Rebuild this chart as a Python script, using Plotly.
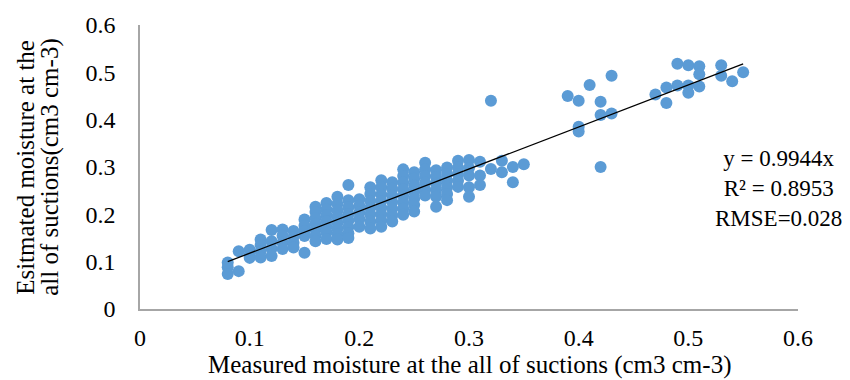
import plotly.graph_objects as go

# Measured (x) and estimated (y) moisture values
measured = [
    0.08, 0.08, 0.08,
    0.09, 0.09,
    0.10, 0.10, 0.10,
    0.11, 0.11, 0.11, 0.11,
    0.12, 0.12, 0.12, 0.12,
    0.13, 0.13, 0.13, 0.13,
    0.14, 0.14, 0.14, 0.14,
    0.15, 0.15, 0.15, 0.15, 0.15,
    0.16, 0.16, 0.16, 0.16, 0.16, 0.16, 0.16,
    0.17, 0.17, 0.17, 0.17, 0.17, 0.17, 0.17,
    0.18, 0.18, 0.18, 0.18, 0.18, 0.18, 0.18, 0.18,
    0.19, 0.19, 0.19, 0.19, 0.19, 0.19, 0.19, 0.19,
    0.20, 0.20, 0.20, 0.20, 0.20,
    0.21, 0.21, 0.21, 0.21, 0.21, 0.21, 0.21,
    0.22, 0.22, 0.22, 0.22, 0.22, 0.22, 0.22, 0.22,
    0.23, 0.23, 0.23, 0.23, 0.23, 0.23, 0.23,
    0.24, 0.24, 0.24, 0.24, 0.24, 0.24, 0.24, 0.24,
    0.25, 0.25, 0.25, 0.25, 0.25, 0.25, 0.25,
    0.26, 0.26, 0.26, 0.26, 0.26, 0.26,
    0.27, 0.27, 0.27, 0.27, 0.27, 0.27,
    0.28, 0.28, 0.28, 0.28, 0.28, 0.28,
    0.29, 0.29, 0.29, 0.29, 0.29,
    0.30, 0.30, 0.30, 0.30, 0.30,
    0.31, 0.31, 0.31,
    0.32, 0.32,
    0.33, 0.33,
    0.34, 0.34,
    0.35,
    0.39,
    0.40, 0.40, 0.40,
    0.41,
    0.42, 0.42, 0.42,
    0.43, 0.43,
    0.47,
    0.48, 0.48,
    0.49, 0.49,
    0.50, 0.50, 0.50,
    0.51, 0.51, 0.51,
    0.53, 0.53,
    0.54,
    0.55,
]

estimated = [
    0.098, 0.088, 0.074,
    0.122, 0.080,
    0.114, 0.108, 0.125,
    0.147, 0.135, 0.122, 0.109,
    0.167, 0.143, 0.128, 0.112,
    0.168, 0.155, 0.140, 0.127,
    0.165, 0.152, 0.140, 0.130,
    0.189, 0.176, 0.165, 0.154, 0.119,
    0.216, 0.205, 0.192, 0.180, 0.168, 0.155, 0.143,
    0.224, 0.210, 0.198, 0.186, 0.174, 0.162, 0.148,
    0.237, 0.222, 0.208, 0.195, 0.182, 0.170, 0.158, 0.147,
    0.262, 0.230, 0.215, 0.200, 0.187, 0.173, 0.160, 0.150,
    0.232, 0.218, 0.204, 0.190, 0.174,
    0.257, 0.243, 0.228, 0.214, 0.200, 0.185, 0.170,
    0.272, 0.257, 0.242, 0.228, 0.214, 0.200, 0.187, 0.174,
    0.268, 0.254, 0.240, 0.226, 0.212, 0.198, 0.185,
    0.295, 0.281, 0.267, 0.253, 0.239, 0.225, 0.212, 0.199,
    0.289, 0.275, 0.261, 0.247, 0.233, 0.220, 0.206,
    0.309, 0.295, 0.281, 0.267, 0.253, 0.240,
    0.293, 0.279, 0.265, 0.251, 0.237, 0.216,
    0.299, 0.285, 0.271, 0.257, 0.243, 0.230,
    0.313, 0.299, 0.285, 0.271, 0.258,
    0.315, 0.298, 0.282, 0.257, 0.237,
    0.311, 0.282, 0.262,
    0.296, 0.440,
    0.313, 0.289,
    0.300, 0.268,
    0.306,
    0.450,
    0.440, 0.385, 0.375,
    0.473,
    0.438, 0.410, 0.300,
    0.493, 0.413,
    0.453,
    0.468, 0.435,
    0.518, 0.472,
    0.515, 0.472, 0.457,
    0.513, 0.496, 0.470,
    0.515, 0.493,
    0.481,
    0.500,
]

# Trendline end points as drawn in the chart
trend_x = [0.08, 0.55]
trend_y = [0.100, 0.518]

tick_vals = [0, 0.1, 0.2, 0.3, 0.4, 0.5, 0.6]
tick_text = ["0", "0.1", "0.2", "0.3", "0.4", "0.5", "0.6"]

stats_text = ["y = 0.9944x", "R² = 0.8953", "RMSE=0.028"]
x_title = "Measured moisture at the all of suctions (cm3 cm-3)"
y_title_lines = ["Esitmated moisture at the", "all of suctions(cm3 cm-3)"]

FONT = "Liberation Serif, Times New Roman, serif"

fig = go.Figure()
fig.add_trace(go.Scatter(
    x=measured, y=estimated, mode="markers",
    marker=dict(size=12, color="#5B9BD5", line=dict(width=0)),
    showlegend=False, hoverinfo="x+y",
))
fig.add_trace(go.Scatter(
    x=trend_x, y=trend_y, mode="lines",
    line=dict(color="black", width=1.3),
    showlegend=False, hoverinfo="skip",
))

# statistics text box
fig.add_annotation(
    x=0.582, y=0.255, xref="x", yref="y", text="<br>".join(stats_text),
    showarrow=False, xanchor="center", yanchor="middle", align="center",
    font=dict(family=FONT, size=23, color="black"),
)

# y-axis title (two rotated lines)
for line, xx in zip(y_title_lines, [-0.175, -0.137]):
    fig.add_annotation(
        x=xx, y=0.5, xref="paper", yref="paper", text=line, showarrow=False,
        textangle=-90, xanchor="center", yanchor="middle",
        font=dict(family=FONT, size=25, color="black"),
    )

# x-axis title
fig.add_annotation(
    x=0.5, y=-0.197, xref="paper", yref="paper", text=x_title, showarrow=False,
    xanchor="center", yanchor="middle",
    font=dict(family=FONT, size=25, color="black"),
)

axis_common = dict(
    range=[0, 0.6], tickvals=tick_vals, ticktext=tick_text,
    showgrid=False, zeroline=False, showline=True,
    linecolor="#A6A6A6", linewidth=1.5, ticks="",
    tickfont=dict(family=FONT, size=24, color="black"),
)

fig.update_xaxes(**axis_common, ticklabelstandoff=6)
fig.update_yaxes(**axis_common, ticklabelstandoff=18)

fig.update_layout(
    width=850, height=380,
    margin=dict(l=140, r=52, t=20, b=71),
    plot_bgcolor="white", paper_bgcolor="white",
)

fig.write_html("out.html")
